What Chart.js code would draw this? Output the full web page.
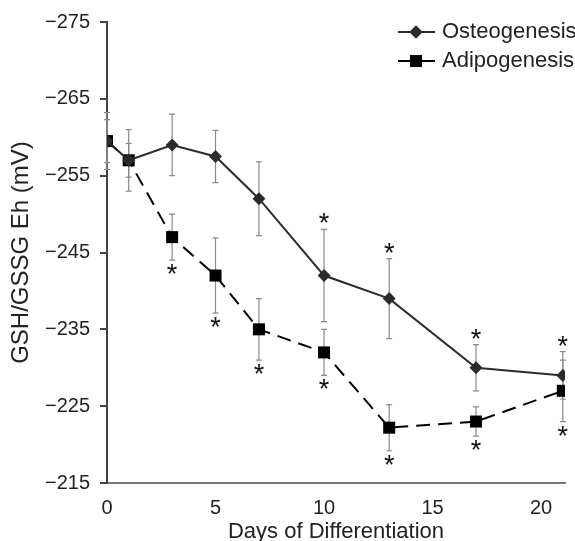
<!DOCTYPE html>
<html>
<head>
<meta charset="utf-8">
<script src="https://cdn.jsdelivr.net/npm/chart.js@4"></script>
<style>
  body { margin: 0; background: #fff; }
  canvas { display: block; }
</style>
</head>
<body>
<canvas id="ehChart" width="575" height="541"></canvas>
<script>
// days of differentiation
const days = [0, 1, 3, 5, 7, 10, 13, 17, 21];

// osteogenesis: mean Eh, error, significance
const osteoMean = [-259.5, -257, -259, -257.5, -252, -242, -239, -230, -229];
const osteoErr = [2.8, 2.2, 4, 3.4, 4.8, 6, 5.2, 3, 3.1];
const osteoSig = [false, false, false, false, false, true, true, true, true];

// adipogenesis
const adipoMean = [-259.5, -257, -247, -242, -235, -232, -222.2, -223, -227];
const adipoErr = [3.7, 4, 3, 4.9, 4, 3, 3, 1.9, 4];
const adipoSig = [false, false, true, true, true, true, true, true, true];

const yTicks = [-275, -265, -255, -245, -235, -225, -215];
const xTicks = [0, 5, 10, 15, 20];

const FONT = 'Liberation Sans, Arial, sans-serif';

let toPoints = function (means) {
    return days.map((d, i) => ({ x: d, y: means[i] }));
};

// error bars + asterisks, drawn under the markers
const errorBars = {
    id: 'errorBars',
    beforeDatasetsDraw(chart) {
        let ctx = chart.ctx;
        let xs = chart.scales.x, ys = chart.scales.y;
        let sets = [
            { mean: osteoMean, err: osteoErr, sig: osteoSig, above: true },
            { mean: adipoMean, err: adipoErr, sig: adipoSig, above: false }
        ];
        ctx.save();
        ctx.strokeStyle = '#8a8a8a';
        ctx.lineWidth = 1.2;
        sets.forEach(s => {
            days.forEach((d, i) => {
                let px = xs.getPixelForValue(d);
                let top = ys.getPixelForValue(s.mean[i] - s.err[i]);
                let bot = ys.getPixelForValue(s.mean[i] + s.err[i]);
                ctx.beginPath();
                ctx.moveTo(px, top); ctx.lineTo(px, bot);
                ctx.moveTo(px - 3, top); ctx.lineTo(px + 3, top);
                ctx.moveTo(px - 3, bot); ctx.lineTo(px + 3, bot);
                ctx.stroke();
            });
        });
        ctx.fillStyle = '#111';
        ctx.font = '27px ' + FONT;
        ctx.textAlign = 'center';
        ctx.textBaseline = 'alphabetic';
        sets.forEach(s => {
            days.forEach((d, i) => {
                if (!s.sig[i]) return;
                let px = xs.getPixelForValue(d);
                if (s.above) {
                    let top = ys.getPixelForValue(s.mean[i] - s.err[i]);
                    ctx.fillText('*', px, top + 3);
                } else {
                    let bot = ys.getPixelForValue(s.mean[i] + s.err[i]);
                    ctx.fillText('*', px, bot + 23);
                }
            });
        });
        ctx.restore();
    }
};

// legend with line + marker, top right
const lineLegend = {
    id: 'lineLegend',
    afterDraw(chart) {
        let ctx = chart.ctx;
        let items = [
            { label: 'Osteogenesis', color: '#2b2b2b', style: 'rectRot', radius: 6.5, y: 32 },
            { label: 'Adipogenesis', color: '#000', style: 'rect', radius: 8.5, y: 61 }
        ];
        ctx.save();
        items.forEach(it => {
            ctx.strokeStyle = it.color;
            ctx.lineWidth = 2;
            ctx.beginPath();
            ctx.moveTo(398, it.y); ctx.lineTo(435, it.y);
            ctx.stroke();
            ctx.fillStyle = it.color;
            Chart.helpers.drawPoint(ctx, { pointStyle: it.style, radius: it.radius, borderWidth: 0 }, 416, it.y);
            ctx.fill();
            ctx.fillStyle = '#222';
            ctx.font = '22px ' + FONT;
            ctx.textAlign = 'left';
            ctx.textBaseline = 'middle';
            ctx.fillText(it.label, 442, it.y);
        });
        ctx.restore();
    }
};

let chartDraw = function () {
    let ctx = document.getElementById('ehChart').getContext('2d');

    window.ehChart = new Chart(ctx, {
        type: 'line',
        data: {
            datasets: [{
                label: 'Osteogenesis',
                data: toPoints(osteoMean),
                borderColor: '#2b2b2b',
                backgroundColor: '#2b2b2b',
                borderWidth: 2,
                pointStyle: 'rectRot',
                pointRadius: 6.5,
                pointBorderWidth: 0,
                tension: 0
            }, {
                label: 'Adipogenesis',
                data: toPoints(adipoMean),
                borderColor: '#000',
                backgroundColor: '#000',
                borderWidth: 2,
                borderDash: [14, 8],
                pointStyle: 'rect',
                pointRadius: 8.5,
                pointBorderWidth: 0,
                tension: 0
            }]
        },
        options: {
            responsive: false,
            animation: false,
            layout: { padding: { top: 20, right: 10, left: 0, bottom: 0 } },
            plugins: {
                legend: { display: false },
                tooltip: { enabled: false }
            },
            scales: {
                x: {
                    type: 'linear',
                    min: 0,
                    max: 21.1,
                    afterBuildTicks: s => { s.ticks = xTicks.map(v => ({ value: v })); },
                    afterFit: s => { s.height = 58; },
                    grid: { display: false },
                    border: { color: '#777', width: 2 },
                    ticks: { color: '#222', font: { family: FONT, size: 20 }, padding: 5, maxRotation: 0 },
                    title: {
                        display: true,
                        text: 'Days of Differentiation',
                        color: '#222',
                        font: { family: FONT, size: 22, lineHeight: 1 },
                        padding: { top: 0, bottom: -2 }
                    }
                },
                y: {
                    type: 'linear',
                    reverse: true,
                    min: -275,
                    max: -215,
                    afterBuildTicks: s => { s.ticks = yTicks.map(v => ({ value: v })); },
                    afterFit: s => { s.width = 107; },
                    grid: { drawOnChartArea: false, drawTicks: true, tickLength: 7, color: '#444', lineWidth: 2 },
                    border: { color: '#444', width: 2 },
                    ticks: {
                        color: '#222',
                        font: { family: FONT, size: 20 },
                        padding: 10,
                        callback: v => (v < 0 ? '\u2212' : '') + Math.abs(v)
                    },
                    title: {
                        display: true,
                        text: 'GSH/GSSG Eh (mV)',
                        color: '#222',
                        font: { family: FONT, size: 24 },
                        padding: { top: 7, bottom: 0 }
                    }
                }
            }
        },
        plugins: [errorBars, lineLegend]
    });
};

window.onload = function () {
    chartDraw();
};
</script>
</body>
</html>
